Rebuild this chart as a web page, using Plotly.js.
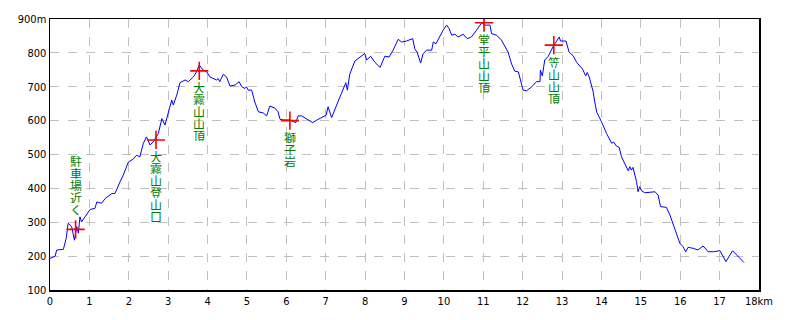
<!DOCTYPE html>
<html>
<head>
<meta charset="utf-8">
<script src="https://cdn.plot.ly/plotly-3.0.1.min.js"></script>
<style>html,body{margin:0;padding:0;background:#fff;}#chart{width:800px;height:320px;}</style>
</head>
<body>
<div id="chart"></div>
<script>
// Distance (km) and elevation (m) along the route
const distKm = [0.00,0.13,0.17,0.34,0.41,0.46,0.55,0.59,0.62,0.68,0.72,0.76,0.80,0.89,1.02,1.14,1.19,1.31,1.40,1.57,1.65,1.78,1.86,1.99,2.11,2.20,2.28,2.37,2.45,2.54,2.62,2.75,2.84,2.92,3.00,3.09,3.13,3.22,3.30,3.43,3.51,3.64,3.72,3.79,3.89,3.98,4.06,4.14,4.23,4.27,4.31,4.40,4.48,4.57,4.70,4.80,4.87,4.95,4.99,5.03,5.12,5.20,5.29,5.41,5.50,5.58,5.71,5.79,5.84,5.92,6.09,6.24,6.30,6.39,6.52,6.67,6.78,6.94,7.01,7.06,7.15,7.26,7.36,7.44,7.51,7.55,7.61,7.74,7.87,7.99,8.04,8.14,8.25,8.38,8.50,8.61,8.71,8.84,8.93,9.05,9.21,9.26,9.32,9.41,9.47,9.56,9.69,9.73,9.80,9.88,9.98,10.07,10.13,10.20,10.28,10.36,10.49,10.59,10.70,10.83,10.96,11.04,11.17,11.21,11.34,11.46,11.55,11.63,11.72,11.80,11.89,11.93,12.01,12.10,12.23,12.35,12.44,12.45,12.50,12.56,12.65,12.77,12.86,12.93,12.96,13.10,13.18,13.28,13.37,13.45,13.52,13.60,13.64,13.69,13.79,13.83,13.88,14.00,14.13,14.26,14.31,14.38,14.45,14.51,14.64,14.68,14.72,14.76,14.80,14.89,14.93,14.97,15.02,15.10,15.36,15.44,15.50,15.65,15.74,15.86,15.99,16.07,16.14,16.20,16.33,16.45,16.58,16.71,16.84,17.01,17.16,17.33,17.62];
const elevM = [193,200,218,220,252,297,287,267,247,287,268,316,301,316,338,341,360,356,370,385,385,420,439,478,486,498,493,533,552,528,537,562,606,587,621,661,646,676,712,720,715,729,744,764,749,744,729,724,720,724,715,737,729,702,705,715,700,695,700,690,690,655,626,623,614,643,637,626,604,602,602,594,614,614,604,594,602,611,616,641,609,641,670,695,712,690,737,776,788,798,779,790,772,757,790,788,808,840,832,835,842,812,802,770,797,808,808,832,827,847,867,882,872,852,855,847,855,842,847,867,889,882,882,857,852,838,818,802,767,746,744,724,690,688,700,715,715,749,732,779,790,818,836,847,835,835,802,792,772,760,752,732,742,729,685,655,625,597,562,533,537,525,521,493,459,452,464,454,462,420,390,405,393,387,390,380,346,344,321,282,238,228,213,226,223,218,230,213,213,216,184,216,181];

// Waypoints
const wpKm = [0.65, 2.69, 3.79, 6.09, 11.02, 12.79];
const wpElev = [279, 543, 747, 600, 889, 823];
const wpNames = ["駐車場近く", "大霧山登山口", "大霧山山頂", "獅子岩", "堂平山山頂", "笠山山頂"];
const wpAbove = [true, false, false, false, false, false];

// Tick labels
const xTickVals = [0,1,2,3,4,5,6,7,8,9,10,11,12,13,14,15,16,17,18];
const xTickText = ["0","1","2","3","4","5","6","7","8","9","10","11","12","13","14","15","16","17","18km"];
const yTickVals = [100,200,300,400,500,600,700,800,900];
const yTickText = ["100","200","300","400","500","600","700","800","900m"];

const tickFont = {family: "Liberation Sans Narrow, DejaVu Sans Condensed, sans-serif", size: 11, color: "#000"};
const labelColor = "#008000";
const pitch = 12, firstOffset = 17, aboveOffset = 20;

// vertical labels, one character per annotation stacked under/over the waypoint
const annotations = [];
wpNames.forEach((name, k) => {
  const chars = Array.from(name);
  const n = chars.length;
  chars.forEach((ch, i) => {
    const shift = wpAbove[k] ? (aboveOffset + (n - 1 - i) * pitch) : -(firstOffset + i * pitch);
    annotations.push({
      x: wpKm[k], y: wpElev[k], xref: "x", yref: "y",
      text: ch, showarrow: false, yshift: shift,
      xanchor: "center", yanchor: "middle",
      height: pitch - 1, width: 12, borderpad: 0,
      font: {family: "Noto Sans CJK JP", size: 12, color: labelColor}
    });
  });
});

const traces = [
  {x: distKm, y: elevM, type: "scatter", mode: "lines",
   line: {color: "#0000ff", width: 1}, hoverinfo: "skip"},
  {x: wpKm, y: wpElev, type: "scatter", mode: "markers",
   marker: {symbol: "cross-thin", size: 13, line: {color: "#ff0000", width: 1.6}, color: "#ff0000"},
   hoverinfo: "skip"}
];

const layout = {
  width: 800, height: 320,
  margin: {l: 50, r: 41, t: 19, b: 30},
  paper_bgcolor: "#ffffff", plot_bgcolor: "#ffffff",
  showlegend: false,
  xaxis: {range: [0, 18], tickvals: xTickVals, ticktext: xTickText, tickfont: tickFont,
          showgrid: true, gridcolor: "#c0c0c0", griddash: "dash", gridwidth: 1,
          showline: true, linecolor: "#000", linewidth: 1.5, mirror: true,
          zeroline: false, ticks: "", ticklen: 0},
  yaxis: {range: [100, 900], tickvals: yTickVals, ticktext: yTickText, tickfont: tickFont,
          showgrid: true, gridcolor: "#c0c0c0", griddash: "dash", gridwidth: 1,
          showline: true, linecolor: "#000", linewidth: 1.5, mirror: true,
          zeroline: false, ticks: "", ticklen: 0},
  annotations: annotations
};

Plotly.newPlot("chart", traces, layout, {staticPlot: true, displayModeBar: false});
</script>
</body>
</html>
